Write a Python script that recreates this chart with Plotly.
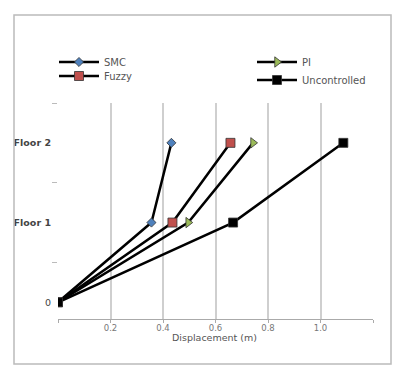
import plotly.graph_objects as go

floors = [0, 1, 2]
floor_labels = ["0", "<b>Floor 1</b>", "<b>Floor 2</b>"]
smc = [0, 0.356, 0.432]
fuzzy = [0, 0.436, 0.657]
pi = [0, 0.496, 0.743]
uncontrolled = [0, 0.667, 1.087]
x_ticks = [0, 0.2, 0.4, 0.6, 0.8, 1.0, 1.2]
x_tick_labels = ["", "0.2", "0.4", "0.6", "0.8", "1.0", ""]

W, H = 401, 366
L, R, T, B = 58, 28, 103, 47
pw, ph = W - L - R, H - T - B
FONT = "DejaVu Sans, Arial"

def px_x(p):
    return (p - L) / pw

def px_y(p):
    return (H - B - p) / ph

fig = go.Figure()
series = [
    ("SMC", smc, "diamond", "#4f81bd", 7, "legend"),
    ("Fuzzy", fuzzy, "square", "#c0504d", 9, "legend2"),
    ("PI", pi, "triangle-right", "#9bbb59", 9, "legend3"),
    ("Uncontrolled", uncontrolled, "square", "#000000", 9, "legend4"),
]
for name, xs, sym, col, sz, lg in series:
    fig.add_trace(go.Scatter(
        x=xs, y=floors, name=name, mode="lines+markers",
        line=dict(color="black", width=2.5),
        marker=dict(symbol=sym, color=col, size=sz,
                    line=dict(color="#333333", width=0.8)),
        legend=lg,
    ))

legend_common = dict(font=dict(family=FONT, size=10, color="#555555"),
                     bgcolor="rgba(0,0,0,0)", itemwidth=40,
                     xanchor="left", yanchor="middle")
fig.update_layout(
    width=W, height=H,
    margin=dict(l=L, r=R, t=T, b=B),
    paper_bgcolor="white", plot_bgcolor="white",
    showlegend=True,
    legend=dict(x=px_x(54), y=px_y(62), **legend_common),
    legend2=dict(x=px_x(54), y=px_y(76), **legend_common),
    legend3=dict(x=px_x(252), y=px_y(62), **legend_common),
    legend4=dict(x=px_x(252), y=px_y(80), **legend_common),
    xaxis=dict(range=[0, 1.2], tickvals=x_ticks, ticktext=x_tick_labels,
               showgrid=True, gridcolor="#cfcfcf", gridwidth=1.5,
               zeroline=False, showline=True, linecolor="#aaaaaa", linewidth=1,
               ticks="outside", ticklen=3, tickcolor="#aaaaaa",
               ticklabelstandoff=-2,
               tickfont=dict(family=FONT, size=8.5, color="#777777")),
    yaxis=dict(range=[-0.21, 2.5], tickvals=floors, ticktext=floor_labels,
               showgrid=False, zeroline=False, showline=False,
               ticks="", tickfont=dict(family=FONT, size=9.5, color="#444444"),
               minor=dict(tickvals=[0.5, 1.5, 2.5], ticks="outside", ticklen=5,
                          tickcolor="#bbbbbb", showgrid=False),
               ticklabelstandoff=6),
    annotations=[dict(text="Displacement (m)", xref="paper", yref="paper",
                      x=px_x(214), y=px_y(337), xanchor="center", yanchor="middle",
                      showarrow=False,
                      font=dict(family=FONT, size=9.5, color="#555555"))],
    shapes=[dict(type="rect", xref="paper", yref="paper",
                 x0=px_x(14), x1=px_x(391), y0=px_y(364), y1=px_y(15),
                 line=dict(color="#bbbbbb", width=1.5))],
)
fig.write_html("out.html")
